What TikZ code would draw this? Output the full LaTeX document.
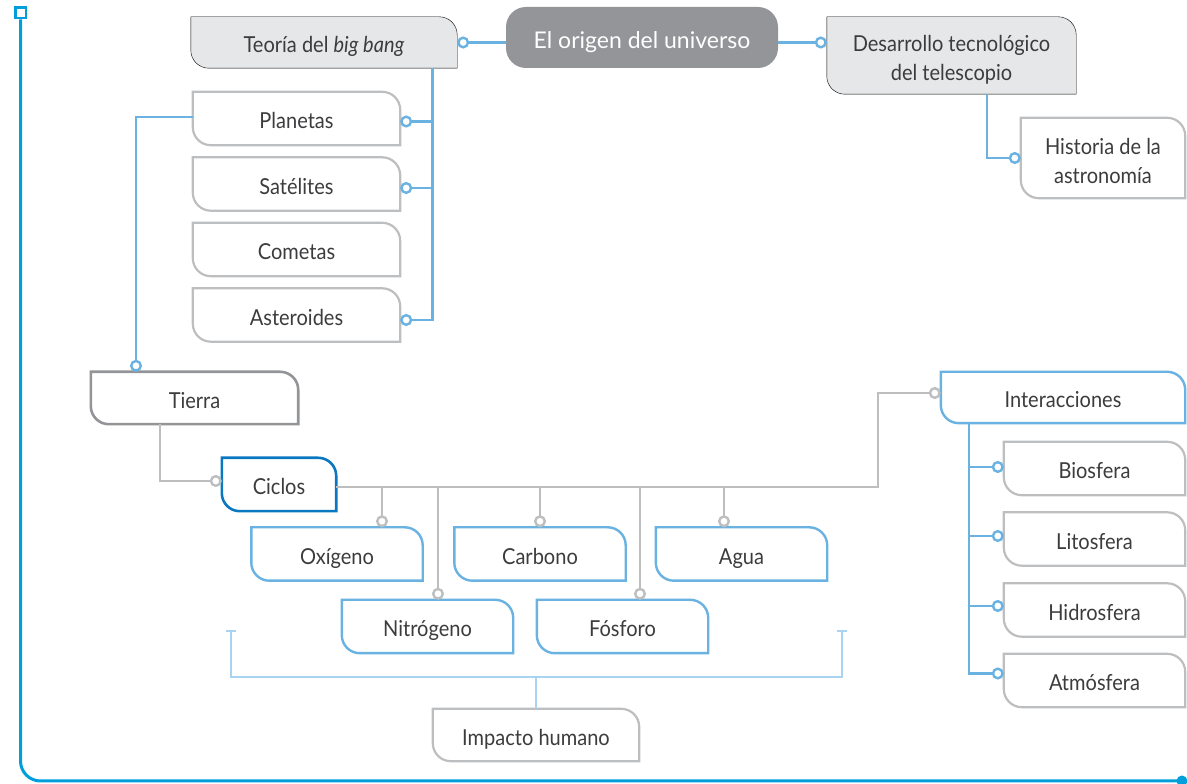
\documentclass[tikz,border=0pt]{standalone}
\usepackage{fontspec}
\setmainfont{Lato}
\newfontfamily\lblfont{Lato}[FakeStretch=0.91]
\usetikzlibrary{arrows.meta,calc}
\definecolor{framec}{HTML}{009EDB}
\definecolor{lblue}{HTML}{6AB2E1}
\definecolor{lgray}{HTML}{BCBEC0}
\definecolor{dgray}{HTML}{929497}
\definecolor{dblue}{HTML}{0A78C1}
\definecolor{brkc}{HTML}{A8D4F1}
\definecolor{mainfill}{HTML}{939598}
\definecolor{lightfill}{HTML}{E6E7E8}
\definecolor{txt}{HTML}{3C3C3E}
\pgfdeclarelayer{bg}
\pgfsetlayers{bg,main}
\newcommand\leafdraw[2]{\draw[#2] (#1.north west) -- ([xshift=-18pt]#1.north east) arc[start angle=90,end angle=0,radius=18pt] -- (#1.south east) -- ([xshift=18pt]#1.south west) arc[start angle=270,end angle=180,radius=18pt] -- cycle;}
\newcommand\twolines[2]{\begin{tabular}[t]{@{}c@{}}#1\\#2\end{tabular}}
\begin{document}
\begin{tikzpicture}[x=1pt,y=1pt,
  lbl/.style={inner sep=0pt, text=txt, font=\lblfont\fontsize{22}{29}\selectfont, text height=21pt, text depth=0pt},
  lbl2/.style={inner sep=0pt, text=txt, font=\lblfont\fontsize{22}{29}\selectfont, text height=0pt, text depth=7.6pt},
  planetsize/.style={minimum width=207pt, minimum height=53pt},
  cyclesize/.style={minimum width=171pt, minimum height=53pt},
  spheresize/.style={minimum width=181pt, minimum height=53pt},
  bl/.style={draw=lblue, line width=2.4pt},
  gl/.style={draw=lgray, line width=2.4pt},
  brk/.style={draw=brkc, line width=2.6pt},
  tipc/.style={-{Circle[fill=white,length=12pt,width=12pt]}},
  tipcs/.style={{Circle[fill=white,length=12pt,width=12pt]}-},
  grayleaf/.style={draw=lgray, line width=2.2pt},
  blueleaf/.style={draw=lblue, line width=2.4pt},
]
\useasboundingbox (0,0) rectangle (1187,784);

% nodes
\node[inner sep=0pt, rounded corners=20pt, fill=mainfill, text=white, minimum width=272pt, minimum height=61pt, font=\fontsize{23}{28}\selectfont, text height=21.6pt, text depth=0pt] (main) at (642,746.5) {El origen del universo};
\node[lbl, minimum width=266pt, minimum height=51pt] (bigbang) at (324,741.5) {Teoría del \textit{big bang}};
\node[lbl2, minimum width=249pt, minimum height=77pt] (desarrollo) at (951.5,728.5) {\twolines{Desarrollo tecnológico}{del telescopio}};
\node[lbl2, minimum width=164pt, minimum height=80pt] (historia) at (1103,626) {\twolines{Historia de la}{astronomía}};
\node[lbl, planetsize] (planetas) at (296.5,665.5) {Planetas};
\node[lbl, planetsize] (satelites) at (296.5,600) {Satélites};
\node[lbl, planetsize] (cometas) at (296.5,534.5) {Cometas};
\node[lbl, planetsize] (asteroides) at (296.5,469) {Asteroides};
\node[lbl, minimum width=207pt, minimum height=52pt] (tierra) at (194.5,386) {Tierra};
\node[lbl, minimum width=114pt, minimum height=53pt] (ciclos) at (279,299.5) {Ciclos};
\node[lbl, cyclesize] (oxigeno) at (337,230) {Oxígeno};
\node[lbl, cyclesize] (carbono) at (540,230) {Carbono};
\node[lbl, cyclesize] (agua) at (741.5,230) {Agua};
\node[lbl, cyclesize] (nitrogeno) at (427.5,157.5) {Nitrógeno};
\node[lbl, cyclesize] (fosforo) at (622.5,157.5) {Fósforo};
\node[lbl, minimum width=244pt, minimum height=51pt] (interacciones) at (1063,386.5) {Interacciones};
\node[lbl, spheresize] (biosfera) at (1094.5,315.5) {Biosfera};
\node[lbl, spheresize] (litosfera) at (1094.5,245) {Litosfera};
\node[lbl, spheresize] (hidrosfera) at (1094.5,174) {Hidrosfera};
\node[lbl, spheresize] (atmosfera) at (1094.5,103.5) {Atmósfera};
\node[lbl, minimum width=206pt, minimum height=52pt] (impacto) at (536,49) {Impacto humano};

% box outlines
\begin{pgfonlayer}{bg}
\leafdraw{bigbang}{fill=lightfill}
\leafdraw{desarrollo}{fill=lightfill}
\foreach \n in {historia,planetas,satelites,cometas,asteroides,biosfera,litosfera,hidrosfera,atmosfera,impacto}{\leafdraw{\n}{grayleaf}}
\leafdraw{tierra}{draw=dgray,line width=2.6pt}
\leafdraw{ciclos}{draw=dblue,line width=2.6pt}
\foreach \n in {oxigeno,carbono,agua,nitrogeno,fosforo,interacciones}{\leafdraw{\n}{blueleaf}}
\end{pgfonlayer}

% top connectors
\draw[bl,tipc] (main.west |- bigbang.east) -- (bigbang.east);
\draw[bl,tipc] (main.east |- bigbang.east) -- (desarrollo.west |- bigbang.east);
\coordinate (bbx) at (432.5,716);
\coordinate (pe) at ([yshift=-3pt]planetas.east);
\coordinate (se) at ([yshift=-4pt]satelites.east);
\coordinate (ae) at ([yshift=-5pt]asteroides.east);
\draw[bl,tipc] (bbx) |- (ae);
\draw[bl,tipc] (bbx |- pe) -- (pe);
\draw[bl,tipc] (bbx |- se) -- (se);
\draw[bl,tipc] ([xshift=35.5pt]desarrollo.south) |- (historia.west);

% planetas -> tierra -> ciclos
\draw[bl,tipc] ([yshift=1.5pt]planetas.west) -| ([xshift=-58.5pt]tierra.north);
\draw[gl,tipc] ([xshift=-34.5pt]tierra.south) |- ([yshift=3.5pt]ciclos.west);

% ciclos bus
\coordinate (bus) at ([yshift=-2.5pt]ciclos.east);
\draw[gl,tipc] (bus) -| ([shift={(-63pt,4.5pt)}]interacciones.west) -- ([yshift=4.5pt]interacciones.west);
\draw[gl,tipcs] ([xshift=45pt]oxigeno.north) |- (bus);
\draw[gl,tipcs] ([xshift=10.5pt]nitrogeno.north) |- (bus);
\draw[gl,tipcs] (carbono.north) |- (bus);
\draw[gl,tipcs] ([xshift=17.5pt]fosforo.north) |- (bus);
\draw[gl,tipcs] ([xshift=-17.5pt]agua.north) |- (bus);

% interacciones
\coordinate (ix) at ([xshift=-94pt]interacciones.south);
\coordinate (bw) at ([yshift=1.5pt]biosfera.west);
\coordinate (lw) at ([yshift=3pt]litosfera.west);
\coordinate (hw) at ([yshift=4pt]hidrosfera.west);
\coordinate (aw) at ([yshift=7pt]atmosfera.west);
\draw[bl,tipc] (ix) |- (aw);
\draw[bl,tipc] (ix |- bw) -- (bw);
\draw[bl,tipc] (ix |- lw) -- (lw);
\draw[bl,tipc] (ix |- hw) -- (hw);

% bracket
\coordinate (bkl) at (231,153);
\coordinate (bkr) at (842,153);
\coordinate (bkm) at (536,107);
\draw[brk] (bkl) |- (bkm) -| (bkr);
\draw[brk] ([xshift=-5pt]bkl) -- ([xshift=5pt]bkl);
\draw[brk] ([xshift=-5pt]bkr) -- ([xshift=5pt]bkr);
\draw[brk] (impacto.north) -- (impacto.north |- bkm);

% frame
\node[draw=framec, fill=white, line width=2.5pt, minimum size=10.5pt, inner sep=0pt] (startsq) at (20.5,771) {};
\coordinate (fend) at (1182,3);
\draw[draw=framec, line width=3pt, rounded corners=20pt] (startsq.south) |- (fend);
\fill[framec] (fend) circle (5.5pt);
\end{tikzpicture}
\end{document}
